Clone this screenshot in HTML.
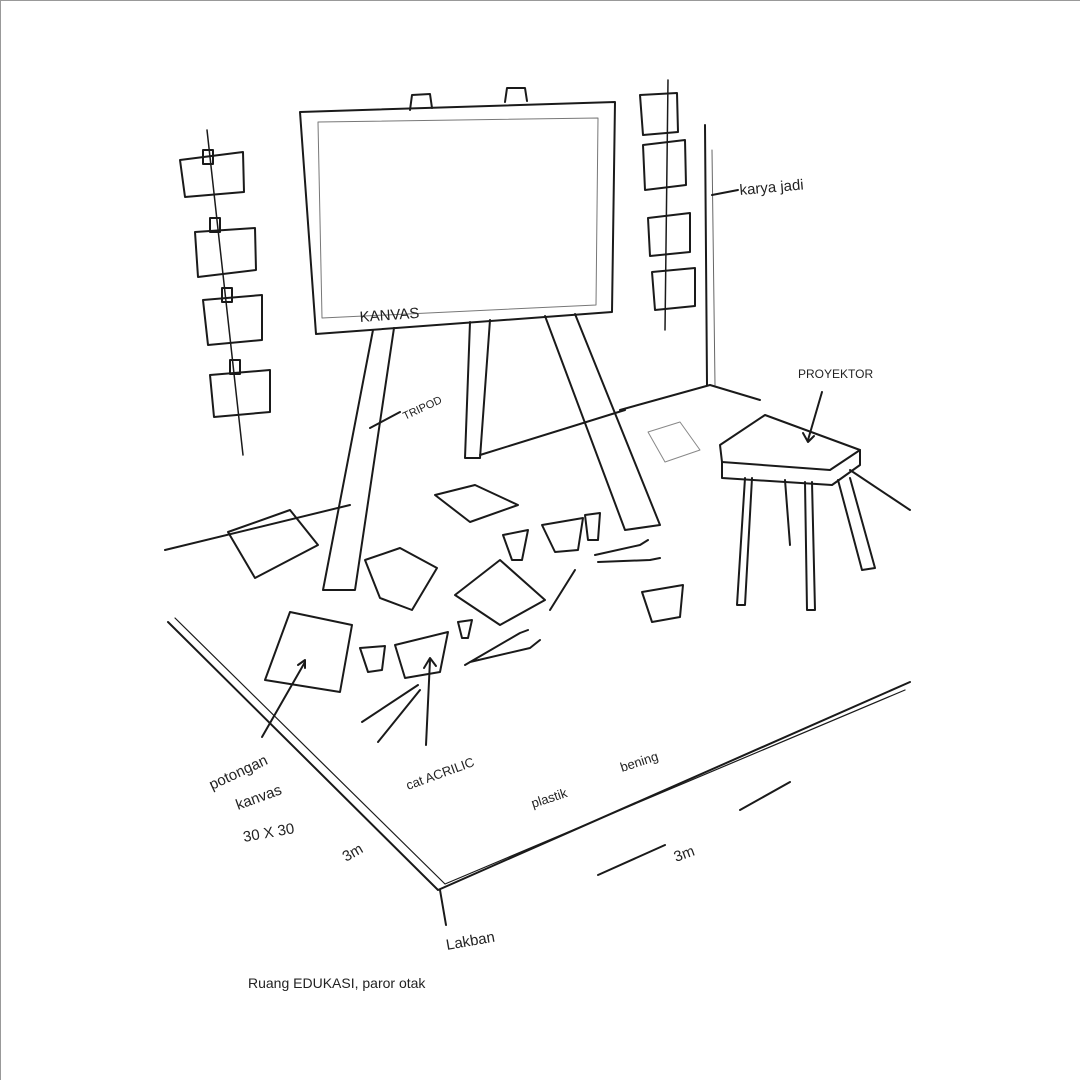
<!DOCTYPE html>
<html><head><style>
html,body{margin:0;padding:0;background:#fff}
svg{display:block}
text{font-family:"Liberation Sans",sans-serif;fill:#222}
</style></head><body>
<svg width="1080" height="1080" viewBox="0 0 1080 1080" xmlns="http://www.w3.org/2000/svg">
<rect x="0" y="0" width="1080" height="1080" fill="#fff"/>
<line x1="0.5" y1="0" x2="0.5" y2="1080" stroke="#999" stroke-width="1"/>
<line x1="0" y1="0.5" x2="1080" y2="0.5" stroke="#999" stroke-width="1"/>
<g fill="none" stroke="#1a1a1a" stroke-width="2" stroke-linecap="round" stroke-linejoin="round">
<!-- canvas -->
<path d="M300 112 L615 102 L612 312 L316 334 Z"/>
<path d="M318 122 L598 118 L596 305 L322 318 Z" stroke="#777" stroke-width="1"/>
<path d="M410 110 L412 95 L430 94 L432 108"/>
<path d="M505 102 L507 88 L525 88 L527 101"/>
<!-- easel legs -->
<path d="M373 330 L323 590 L355 590 L394 328"/>
<path d="M470 322 L465 458 L480 458 L490 320"/>
<path d="M545 316 L625 530 L660 525 L575 314"/>
<!-- left string & frames -->
<line x1="207" y1="130" x2="243" y2="455" stroke-width="1.5"/>
<path d="M180 160 L243 152 L244 192 L185 197 Z"/>
<path d="M195 232 L255 228 L256 270 L198 277 Z"/>
<path d="M203 300 L262 295 L262 340 L208 345 Z"/>
<path d="M210 375 L270 370 L270 412 L214 417 Z"/>
<rect x="203" y="150" width="10" height="14"/>
<rect x="210" y="218" width="10" height="14"/>
<rect x="222" y="288" width="10" height="14"/>
<rect x="230" y="360" width="10" height="14"/>
<!-- right frames -->
<line x1="668" y1="80" x2="665" y2="330" stroke-width="1.5"/>
<path d="M640 95 L677 93 L678 132 L643 135 Z"/>
<path d="M643 145 L685 140 L686 185 L645 190 Z"/>
<path d="M648 218 L690 213 L690 252 L650 256 Z"/>
<path d="M652 272 L695 268 L695 306 L655 310 Z"/>
<line x1="705" y1="125" x2="707" y2="385"/>
<line x1="712" y1="150" x2="715" y2="385" stroke="#666" stroke-width="1"/>
<!-- floor lines -->
<path d="M165 550 L350 505 M480 455 L625 410 M620 410 L710 385 L760 400"/>
<path d="M850 470 L910 510"/>
<!-- plastic sheet -->
<path d="M168 622 L438 890 L910 682"/>
<path d="M175 618 L445 884 L905 690" stroke-width="1.2"/>
<!-- left canvas pieces -->
<path d="M228 532 L290 510 L318 545 L255 578 Z"/>
<path d="M290 612 L352 625 L340 692 L265 680 Z"/>
<path d="M365 560 L400 548 L437 568 L412 610 L380 598 Z"/>
<path d="M435 495 L475 485 L518 505 L470 522 Z"/>
<path d="M455 595 L500 560 L545 600 L500 625 Z"/>
<path d="M648 432 L680 422 L700 450 L665 462 Z" stroke="#888" stroke-width="1"/>
<!-- buckets -->
<path d="M542 525 L583 518 L578 550 L555 552 Z"/>
<path d="M503 535 L528 530 L522 560 L512 560 Z"/>
<path d="M585 515 L600 513 L598 540 L588 540 Z"/>
<path d="M642 592 L683 585 L680 617 L652 622 Z"/>
<path d="M360 648 L385 646 L382 670 L368 672 Z"/>
<path d="M395 645 L448 632 L440 672 L405 678 Z"/>
<path d="M458 622 L472 620 L468 638 L462 638 Z"/>
<!-- brushes -->
<path d="M595 555 L640 545 M598 562 L650 560 M640 545 L648 540 M650 560 L660 558"/>
<path d="M465 665 L520 633 M470 662 L530 648 M520 633 L528 630 M530 648 L540 640"/>
<path d="M362 722 L418 685 M378 742 L420 690"/>
<path d="M550 610 L575 570"/>
<!-- stool -->
<path d="M720 445 L765 415 L860 450 L830 470 L722 462 Z"/>
<path d="M722 462 L722 478 L832 485 L860 465 L860 450"/>
<path d="M745 478 L737 605 L745 605 L752 478"/>
<path d="M805 482 L807 610 L815 610 L812 482"/>
<path d="M838 480 L862 570 L875 568 L850 478"/>
<path d="M785 480 L790 545"/>
<!-- leader lines -->
<path d="M370 428 L400 412"/>
<path d="M712 195 L738 190"/>
<path d="M822 392 L808 440 M803 433 L808 442 L814 436"/>
<path d="M262 737 L305 662 M298 665 L305 660 L305 668"/>
<path d="M426 745 L430 660 M424 668 L430 658 L436 666"/>
<path d="M440 890 L446 925"/>
<path d="M740 810 L790 782 M598 875 L665 845"/>
</g>
<g font-size="15">
<text x="360" y="322" transform="rotate(-4 360 322)">KANVAS</text>
<text x="405" y="420" font-size="11" transform="rotate(-25 405 420)">TRIPOD</text>
<text x="740" y="195" transform="rotate(-5 740 195)">karya jadi</text>
<text x="798" y="378" font-size="12">PROYEKTOR</text>
<text x="212" y="790" transform="rotate(-25 212 790)">potongan</text>
<text x="238" y="810" transform="rotate(-20 238 810)">kanvas</text>
<text x="244" y="842" transform="rotate(-10 244 842)">30 X 30</text>
<text x="346" y="862" transform="rotate(-30 346 862)">3m</text>
<text x="408" y="790" font-size="13" transform="rotate(-20 408 790)">cat ACRILIC</text>
<text x="533" y="808" font-size="13" transform="rotate(-18 533 808)">plastik</text>
<text x="622" y="772" font-size="13" transform="rotate(-18 622 772)">bening</text>
<text x="676" y="862" transform="rotate(-20 676 862)">3m</text>
<text x="447" y="950" transform="rotate(-10 447 950)">Lakban</text>
<text x="248" y="988" font-size="14">Ruang EDUKASI, paror otak</text>
</g>
</svg>
</body></html>
